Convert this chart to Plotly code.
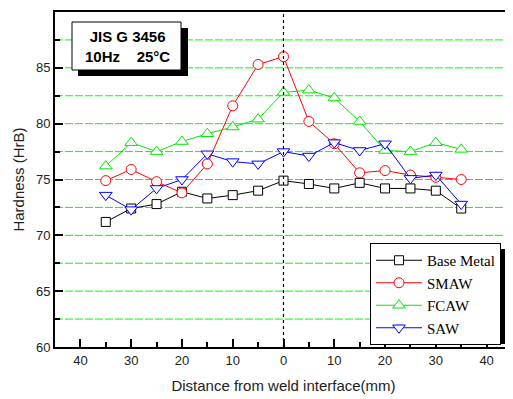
import plotly.graph_objects as go

distance = [-35, -30, -25, -20, -15, -10, -5, 0, 5, 10, 15, 20, 25, 30, 35]
base_metal = [71.2, 72.4, 72.8, 73.9, 73.3, 73.6, 74.0, 74.9, 74.6, 74.2, 74.7, 74.2, 74.2, 74.0, 72.4]
smaw = [74.9, 75.9, 74.8, 73.8, 76.4, 81.6, 85.3, 86.0, 80.2, 78.2, 75.6, 75.8, 75.4, 75.2, 75.0]
fcaw = [76.2, 78.3, 77.5, 78.4, 79.1, 79.7, 80.4, 82.8, 83.0, 82.3, 80.2, 77.6, 77.5, 78.3, 77.7]
saw = [73.6, 72.3, 74.2, 75.0, 77.3, 76.6, 76.4, 77.5, 77.1, 78.3, 77.6, 78.2, 75.1, 75.4, 72.8]

series_names = ["Base Metal", "SMAW", "FCAW", "SAW"]
series_values = [base_metal, smaw, fcaw, saw]
series_colors = ["#000000", "#ff0000", "#00e600", "#0000ff"]
series_symbols = ["square", "circle", "triangle-up", "triangle-down"]
series_sizes = [9, 10, 11, 11]

x_tickvals = [-40, -30, -20, -10, 0, 10, 20, 30, 40]
x_ticktext = ["40", "30", "20", "10", "0", "10", "20", "30", "40"]
y_gridvals = [62.5, 65, 67.5, 70, 72.5, 75, 77.5, 80, 82.5, 85, 87.5]

GRID = "#00ff00"

fig = go.Figure()
for name, vals, col, sym, sz in zip(series_names, series_values, series_colors, series_symbols, series_sizes):
    fig.add_trace(go.Scatter(
        x=distance, y=vals, name=name, mode="lines+markers",
        line=dict(color=col, width=1),
        marker=dict(symbol=sym, size=sz, color="white", line=dict(color=col, width=1)),
    ))

# the page body has an 8px margin: work in page pixels, convert to figure pixels
OFF = 8
W, H = 513 - OFF, 399 - OFF
L, T = 55 - OFF, 12 - OFF
R = W - (512 - OFF)
B = H - (347 - OFF)
pw, ph = W - L - R, H - T - B

def px(xp):
    return (xp - OFF - L) / pw

def py(yp):
    return (H - B - (yp - OFF)) / ph

shapes = [
    dict(type="line", xref="paper", yref="y", x0=0, x1=1, y0=g, y1=g,
         line=dict(color=GRID, width=1, dash="8px,2px"), layer="below")
    for g in y_gridvals
]
shapes += [
    dict(type="line", xref="x", yref="paper", x0=0, x1=0, y0=0, y1=1,
         line=dict(color="black", width=1.2, dash="dot"), layer="above"),
    dict(type="rect", xref="paper", yref="paper", x0=px(78), x1=px(188), y0=py(76), y1=py(28),
         fillcolor="black", line=dict(width=0), layer="above"),
    dict(type="rect", xref="paper", yref="paper", x0=px(72), x1=px(181), y0=py(70), y1=py(22),
         fillcolor="white", line=dict(color="black", width=1), layer="above"),
    dict(type="rect", xref="paper", yref="paper", x0=px(376), x1=px(510), y0=py(344), y1=py(249),
         fillcolor="black", line=dict(width=0), layer="above"),
]

fig.update_layout(
    template="none",
    width=W, height=H,
    margin=dict(l=L, r=R, t=T, b=B),
    paper_bgcolor="white", plot_bgcolor="white",
    font=dict(family="Liberation Sans, Arial", size=13, color="#222"),
    shapes=shapes,
    annotations=[dict(
        xref="paper", yref="paper", x=px(127), y=py(46),
        text="<b>JIS G 3456</b><br><b>10Hz\u00a0\u00a0\u00a0\u00a025°C</b>",
        showarrow=False, font=dict(family="Liberation Sans, Arial", size=15, color="black"),
        align="center", xanchor="center", yanchor="middle",
    )],
    legend=dict(
        x=px(370), y=py(243), xanchor="left", yanchor="top",
        bgcolor="white", bordercolor="black", borderwidth=1,
        font=dict(family="Liberation Serif, Times New Roman", size=15, color="black"),
        tracegroupgap=0, itemwidth=46,
    ),
    xaxis=dict(
        range=[-45, 45], tickvals=x_tickvals, ticktext=x_ticktext,
        ticks="inside", ticklen=8, tickwidth=2, tickcolor="black",
        minor=dict(dtick=5, ticks="inside", ticklen=5, tickwidth=1.5, tickcolor="black", showgrid=False),
        showline=True, linecolor="black", linewidth=2, mirror=True,
        showgrid=False, zeroline=False,
        title=dict(text="Distance from weld interface(mm)", font=dict(size=15, color="#222"), standoff=14),
    ),
    yaxis=dict(
        range=[60, 90], dtick=5, tick0=60,
        ticks="inside", ticklen=8, tickwidth=2, tickcolor="black",
        minor=dict(dtick=2.5, ticks="inside", ticklen=5, tickwidth=1.5, tickcolor="black", showgrid=False),
        showgrid=False,
        showline=True, linecolor="black", linewidth=2, mirror=True,
        zeroline=False,
        title=dict(text="Hardness (HrB)", font=dict(size=15, color="#222"), standoff=8),
    ),
)

fig.write_html("out.html")
